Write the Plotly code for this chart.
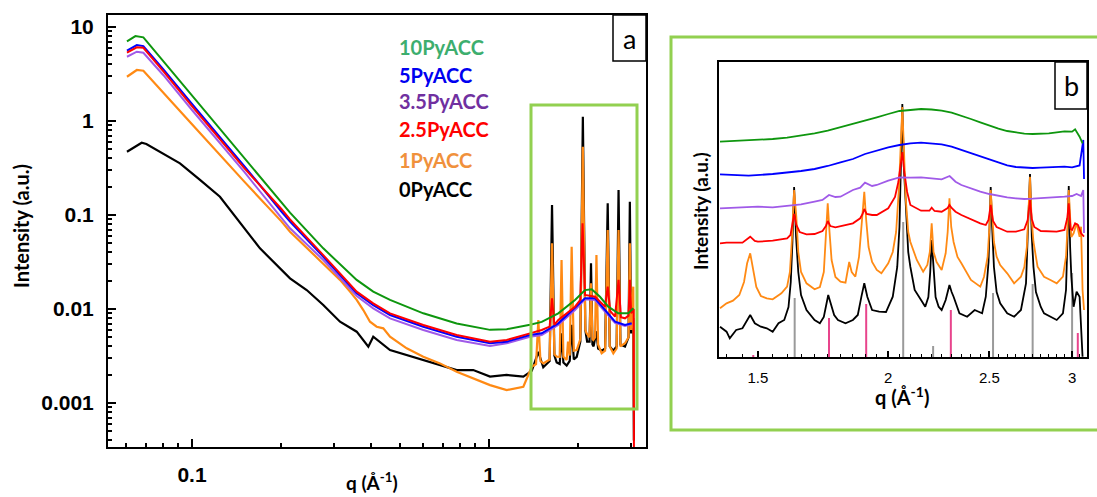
import plotly.graph_objects as go

W, H = 1097, 497
def px(x): return x / W
def py(y): return 1 - y / H

# ---------------- Panel a data (q in 1/A, intensity a.u.) ----------------
qa_10 = [0.0604, 0.0645, 0.0686, 0.08, 0.1, 0.15, 0.2, 0.2138, 0.2767, 0.3585, 0.4076, 0.4642, 0.6009, 0.7783,
         1.008, 1.147, 1.374, 1.505, 1.711, 1.948, 2.105, 2.217, 2.364, 2.521, 2.725, 2.944, 3.061]
ia_10 = [7.05, 8.02, 7.77, 4.34, 1.87, 0.404, 0.137, 0.106, 0.0442, 0.0204, 0.0153, 0.0125, 0.0090, 0.0070,
         0.0060, 0.0061, 0.0068, 0.0073, 0.0090, 0.0125, 0.0159, 0.0162, 0.0135, 0.0106, 0.0090, 0.0090, 0.0102]

qa_5 = [0.0604, 0.0652, 0.0686, 0.08, 0.1, 0.15, 0.2, 0.2138, 0.2767, 0.3585, 0.4076, 0.4642, 0.6009, 0.7783,
        1.008, 1.147, 1.374, 1.505, 1.711, 1.948, 2.105, 2.275, 2.459, 2.657, 2.870, 3.023]
ia_5 = [5.60, 6.43, 6.27, 3.57, 1.52, 0.332, 0.109, 0.0849, 0.0360, 0.0147, 0.0110, 0.00863, 0.00648, 0.00507,
        0.00432, 0.00449, 0.00529, 0.00551, 0.00704, 0.0102, 0.0130, 0.0130, 0.00975, 0.00732, 0.00676, 0.00704]

qa_35 = [0.0604, 0.0652, 0.0686, 0.08, 0.1, 0.15, 0.2, 0.2138, 0.2767, 0.3585, 0.4076, 0.4642, 0.6009, 0.7783,
         1.008, 1.147, 1.374, 1.505, 1.711, 1.948, 2.105, 2.275, 2.459, 2.657, 2.870, 3.023]
ia_35 = [4.83, 5.46, 5.33, 3.09, 1.31, 0.287, 0.093, 0.0722, 0.0332, 0.01375, 0.01017, 0.00796, 0.00598, 0.00468,
         0.00404, 0.00432, 0.00507, 0.00529, 0.00676, 0.00975, 0.01268, 0.01247, 0.00936, 0.00714, 0.00659, 0.00692]

qa_25 = [0.0604, 0.0652, 0.0686, 0.08, 0.1, 0.15, 0.2, 0.2138, 0.2767, 0.3585, 0.4076, 0.4642, 0.6009, 0.7783,
         1.008, 1.147, 1.374, 1.505, 1.60, 1.63, 1.66, 1.711, 1.948, 2.03, 2.065, 2.105, 2.275, 2.459, 2.51, 2.56,
         2.657, 2.73, 2.78, 2.870, 2.95, 2.98, 3.01, 3.04, 3.07, 3.078]
ia_25 = [5.33, 6.08, 6.02, 3.40, 1.44, 0.316, 0.116, 0.0900, 0.0375, 0.0153, 0.0115, 0.0090, 0.00676, 0.00529,
         0.00449, 0.00468, 0.00551, 0.00598, 0.0065, 0.0130, 0.0068, 0.00764, 0.01058, 0.0125, 0.0816, 0.0141,
         0.0135, 0.01058, 0.0173, 0.0095, 0.00828, 0.0204, 0.0082, 0.00796, 0.0085, 0.0204, 0.0090, 0.0095,
         0.0100, 0.0001]

qa_1 = [0.0604, 0.0652, 0.0686, 0.08, 0.1, 0.15, 0.2, 0.2138, 0.2767, 0.315, 0.3404, 0.3585, 0.3774, 0.3975,
        0.4186, 0.4406, 0.4642, 0.5284, 0.6009, 0.684, 0.7783, 0.885, 1.008, 1.147, 1.305, 1.393, 1.44, 1.466,
        1.49, 1.523, 1.60, 1.63, 1.66, 1.69, 1.73, 1.755, 1.78, 1.826, 1.845, 1.87, 1.898, 1.93, 1.974, 2.03,
        2.07, 2.11, 2.133, 2.18, 2.205, 2.23, 2.245, 2.275, 2.30, 2.33, 2.395, 2.46, 2.51, 2.55, 2.622, 2.69,
        2.73, 2.77, 2.87, 2.95, 2.98, 3.01, 3.04, 3.06, 3.075]
ia_1 = [2.96, 3.49, 3.43, 2.00, 0.925, 0.2266, 0.0856, 0.0664, 0.0306, 0.0204, 0.0153, 0.0125, 0.00975, 0.00732,
        0.00648, 0.00623, 0.00507, 0.00382, 0.00311, 0.00264, 0.00215, 0.00183, 0.00155, 0.00137, 0.00149,
        0.00243, 0.0026, 0.00764, 0.0028, 0.00264, 0.0029, 0.0500, 0.0033, 0.00311, 0.0031, 0.0332, 0.0031,
        0.00287, 0.0045, 0.0032, 0.0460, 0.0036, 0.00366, 0.0048, 0.533, 0.0060, 0.00551, 0.0050, 0.01876,
        0.0048, 0.00468, 0.0050, 0.0375, 0.0042, 0.00338, 0.0036, 0.0692, 0.0040, 0.00338, 0.0038, 0.0692,
        0.0040, 0.00432, 0.0050, 0.0500, 0.0060, 0.0100, 0.0173, 0.000914]

qa_0 = [0.0604, 0.0677, 0.0702, 0.0911, 0.1064, 0.1242, 0.1694, 0.2138, 0.2433, 0.2767, 0.315, 0.3585, 0.3924,
        0.4076, 0.4642, 0.5284, 0.6009, 0.684, 0.7783, 0.885, 1.008, 1.147, 1.305, 1.393, 1.466, 1.523, 1.60,
        1.63, 1.66, 1.69, 1.73, 1.755, 1.78, 1.826, 1.87, 1.898, 1.93, 1.974, 2.03, 2.07, 2.11, 2.14, 2.18,
        2.205, 2.23, 2.25, 2.30, 2.33, 2.40, 2.46, 2.51, 2.55, 2.62, 2.69, 2.73, 2.77, 2.87, 2.95, 2.98, 3.01,
        3.04, 3.06, 3.075]
ia_0 = [0.471, 0.588, 0.569, 0.355, 0.236, 0.1566, 0.0442, 0.0212, 0.01592, 0.01104, 0.00732, 0.00574, 0.00397,
        0.00507, 0.00366, 0.00324, 0.00287, 0.00254, 0.00224, 0.00224, 0.00191, 0.00199, 0.00191, 0.0022,
        0.0035, 0.0024, 0.0028, 0.128, 0.0032, 0.0027, 0.0026, 0.0055, 0.0027, 0.0025, 0.0028, 0.0068, 0.0029,
        0.0031, 0.0045, 1.11, 0.0060, 0.0045, 0.0045, 0.0306, 0.0042, 0.0040, 0.0058, 0.0038, 0.0036, 0.0038,
        0.133, 0.0040, 0.0036, 0.0040, 0.1845, 0.0042, 0.0040, 0.0050, 0.138, 0.0055, 0.0070, 0.0080, 0.0004]

# ---------------- Panel b data (offset curves, a.u.) ----------------
qb_10 = [1.38, 1.45, 1.50, 1.55, 1.60, 1.65, 1.70, 1.75, 1.80, 1.85, 1.90, 1.95, 2.00, 2.05, 2.10, 2.15, 2.20,
         2.25, 2.30, 2.35, 2.40, 2.45, 2.50, 2.55, 2.60, 2.65, 2.70, 2.75, 2.80, 2.85, 2.90, 2.95, 3.00, 3.02,
         3.05, 3.07]
ib_10 = [215.3, 216.3, 217, 218, 219.3, 221.3, 223.7, 226.3, 229.7, 232.7, 236, 239.7, 243, 246, 247, 248, 247.5,
         246.3, 244.3, 241.3, 238, 234.7, 231.3, 228.3, 226, 224.3, 223.3, 223, 223.3, 223.7, 224.7, 225.7, 225.3,
         227.7, 220.3, 213.7]

qb_5 = [1.38, 1.47, 1.55, 1.60, 1.65, 1.70, 1.75, 1.80, 1.85, 1.90, 1.95, 2.00, 2.05, 2.10, 2.15, 2.20, 2.25,
        2.30, 2.35, 2.40, 2.45, 2.50, 2.55, 2.60, 2.65, 2.70, 2.75, 2.80, 2.90, 2.95, 3.00, 3.03, 3.05, 3.075,
        3.08]
ib_5 = [182.7, 181.3, 183, 184.3, 186, 188, 191, 194.7, 198, 203, 206.3, 209.7, 212, 213.7, 214.3, 213.7, 212.7,
        210.3, 207, 203.7, 200.3, 197, 194.3, 191.7, 190, 189.3, 189, 189.3, 189.7, 190.3, 189.7, 191, 191.5,
        217, 178]

qb_35 = [1.38, 1.45, 1.50, 1.55, 1.60, 1.65, 1.70, 1.73, 1.755, 1.78, 1.80, 1.85, 1.88, 1.90, 1.93, 1.95, 2.00,
         2.05, 2.10, 2.15, 2.20, 2.25, 2.29, 2.32, 2.35, 2.40, 2.45, 2.50, 2.55, 2.60, 2.65, 2.70, 2.75, 2.80,
         2.85, 2.90, 2.95, 3.00, 3.03, 3.06, 3.075, 3.08]
ib_35 = [148.7, 149.7, 150.3, 149.7, 151, 152.7, 155.3, 157, 162, 160, 160.3, 167, 169.3, 174.3, 171, 172, 176.3,
         179.7, 179.3, 179.7, 178.7, 177.7, 181, 175.3, 172, 168.7, 165.3, 163, 161, 159.7, 158.7, 158, 158.3,
         158.7, 159, 159.3, 160.3, 161, 163, 161, 167, 124]

qb_25 = [1.38, 1.40, 1.45, 1.465, 1.475, 1.49, 1.50, 1.55, 1.60, 1.612, 1.619, 1.625, 1.633, 1.645, 1.67, 1.70,
         1.73, 1.743, 1.750, 1.76, 1.78, 1.80, 1.85, 1.88, 1.89, 1.897, 1.907, 1.93, 1.95, 2.00, 2.03, 2.045,
         2.056, 2.063, 2.072, 2.085, 2.10, 2.15, 2.19, 2.201, 2.215, 2.25, 2.28, 2.289, 2.30, 2.32, 2.35, 2.40,
         2.45, 2.48, 2.495, 2.507, 2.52, 2.54, 2.60, 2.65, 2.70, 2.72, 2.734, 2.745, 2.76, 2.80, 2.85, 2.90,
         2.95, 2.968, 2.978, 2.99, 3.00, 3.02, 3.04, 3.06, 3.08]
ib_25 = [113.7, 114.3, 114.3, 118, 120.3, 116, 115.3, 116.3, 118.7, 122, 133.7, 143, 132, 125, 122.7, 123,
         126, 131, 136, 131, 129.7, 131, 133.7, 138.7, 143, 148, 143, 142, 142, 148.7, 160, 175,
         195, 205, 185, 165, 152, 146.3, 146.3, 149.3, 146, 145.3, 149, 152, 149, 145.3, 142, 137.7,
         133.7, 132, 137, 152, 136, 130, 125.3, 125.3, 127.7, 137, 157, 138, 130, 126, 125.3, 125.3,
         127, 138.7, 153.7, 128, 127, 133.7, 132, 123.7, 120.3]

qb_1 = [1.38, 1.40, 1.42, 1.44, 1.455, 1.465, 1.475, 1.485, 1.495, 1.51, 1.53, 1.55, 1.58, 1.60, 1.61, 1.617,
        1.625, 1.633, 1.64, 1.65, 1.67, 1.70, 1.72, 1.735, 1.743, 1.750, 1.757, 1.765, 1.78, 1.80, 1.82, 1.835,
        1.845, 1.86, 1.875, 1.887, 1.897, 1.905, 1.915, 1.93, 1.95, 1.97, 2.00, 2.02, 2.035, 2.048, 2.056, 2.063,
        2.07, 2.078, 2.09, 2.10, 2.13, 2.16, 2.18, 2.192, 2.201, 2.21, 2.225, 2.25, 2.27, 2.28, 2.289, 2.298,
        2.31, 2.33, 2.35, 2.40, 2.45, 2.47, 2.49, 2.50, 2.507, 2.515, 2.525, 2.54, 2.56, 2.60, 2.64, 2.68, 2.70,
        2.715, 2.725, 2.734, 2.743, 2.755, 2.78, 2.82, 2.86, 2.90, 2.94, 2.96, 2.97, 2.978, 2.987, 2.995, 3.01,
        3.03, 3.05, 3.06, 3.07, 3.08]
ib_1 = [48.7, 53.7, 56.3, 62, 75, 93.7, 103.7, 87, 70, 61, 58.7, 57.7, 63.7, 70.3, 85, 117,
        167, 140, 105, 85, 73.7, 67.7, 70, 85, 120, 153.7, 125, 97, 80, 75.3, 74.3, 95,
        85, 80.3, 100, 140, 165.3, 137, 110, 95, 87, 83.7, 93.7, 105, 125, 170, 215, 250,
        210, 160, 125, 115, 97, 85.3, 92, 105, 133.7, 105, 95, 87, 103.7, 125, 158.7, 130,
        115, 100, 93.7, 77, 70.3, 80, 100, 130, 167, 140, 115, 100.3, 92, 83.7, 73.7, 80.3, 90,
        110, 145, 180.3, 140, 115, 90.3, 80.3, 77, 73.7, 80.3, 100.3, 130, 167, 140, 120, 123.7,
        133.7, 120.3, 130.3, 67, 47]

qb_0 = [1.38, 1.40, 1.41, 1.43, 1.45, 1.465, 1.475, 1.49, 1.51, 1.53, 1.55, 1.57, 1.59, 1.605, 1.613, 1.619,
        1.625, 1.632, 1.64, 1.65, 1.67, 1.70, 1.72, 1.735, 1.745, 1.752, 1.76, 1.775, 1.79, 1.82, 1.85, 1.87,
        1.885, 1.897, 1.91, 1.93, 1.96, 1.99, 2.02, 2.04, 2.05, 2.056, 2.063, 2.07, 2.08, 2.09, 2.10, 2.12, 2.15,
        2.17, 2.185, 2.194, 2.201, 2.21, 2.22, 2.235, 2.25, 2.27, 2.289, 2.30, 2.31, 2.34, 2.38, 2.42, 2.46,
        2.48, 2.495, 2.50, 2.507, 2.515, 2.525, 2.54, 2.56, 2.60, 2.64, 2.68, 2.71, 2.72, 2.734, 2.745, 2.755,
        2.77, 2.80, 2.82, 2.86, 2.90, 2.94, 2.96, 2.97, 2.978, 2.987, 2.995, 3.01, 3.03, 3.05, 3.06, 3.07]
ib_0 = [30.3, 25.3, 18.7, 27, 28.7, 37, 42, 33.7, 30.3, 28.7, 25.3, 33.7, 37, 50, 75, 115,
        170, 120, 85, 62, 47, 37, 33.7, 40, 55, 62, 55, 42, 37, 33.7, 37, 42,
        60.3, 73.7, 60, 47, 45.3, 45, 60.3, 90, 130, 180, 253, 190, 140, 105, 90, 67, 57,
        50.3, 60, 85, 117, 85, 60, 50.3, 47, 57, 72, 65, 60.3, 43.7, 40.3, 47, 43.7,
        60.3, 95, 125, 170, 130, 90, 65, 53.7, 43.7, 40.3, 47, 73.7, 120, 183, 120, 90,
        65, 50, 43.7, 40.3, 37, 43.7, 67, 120, 171, 110, 80.3, 50.3, 65.3, 60.3, 33.7, 0.3]

# reference reflections (panel b)
q_calcite = [1.627, 2.067, 2.208, 2.52, 2.75, 3.00]
h_calcite = [59, 135, 11, 64, 73, 84]
q_vaterite = [1.485, 1.755, 1.905, 2.296, 3.038]
h_vaterite = [2, 39, 53, 47, 24]

labels = ["10PyACC", "5PyACC", "3.5PyACC", "2.5PyACC", "1PyACC", "0PyACC"]
label_colors = ["#3DAE6E", "#0000F0", "#7030A0", "#FF0000", "#F0913C", "#000000"]

C_GREEN, C_BLUE, C_PURPLE, C_RED, C_ORANGE, C_BLACK = "#0E960E", "#0000FF", "#A05AE8", "#FF0000", "#FF8A14", "#000000"
BOX_GREEN = "#92D050"

fig = go.Figure()

def line(x, y, color, width, xa="x", ya="y"):
    fig.add_trace(go.Scatter(x=x, y=y, mode="lines", line=dict(color=color, width=width),
                             xaxis=xa, yaxis=ya, showlegend=False, hoverinfo="skip"))

# panel a curves
line(qa_0, ia_0, C_BLACK, 2.2)
line(qa_1, ia_1, C_ORANGE, 2.2)
line(qa_35, ia_35, C_PURPLE, 2)
line(qa_5, ia_5, C_BLUE, 2)
line(qa_25, ia_25, C_RED, 2)
line(qa_10, ia_10, C_GREEN, 2)

# panel b reference sticks
def sticks(qs, hs, color):
    xs, ys = [], []
    for q, h in zip(qs, hs):
        xs += [q, q, None]
        ys += [0, h, None]
    line(xs, ys, color, 2, "x2", "y2")

sticks(q_calcite, h_calcite, "#9A9A9A")
sticks(q_vaterite, h_vaterite, "#E8448C")

# panel b curves
line(qb_0, ib_0, C_BLACK, 1.8, "x2", "y2")
line(qb_1, ib_1, C_ORANGE, 1.8, "x2", "y2")
line(qb_25, ib_25, C_RED, 1.8, "x2", "y2")
line(qb_35, ib_35, C_PURPLE, 1.8, "x2", "y2")
line(qb_5, ib_5, C_BLUE, 1.8, "x2", "y2")
line(qb_10, ib_10, C_GREEN, 1.8, "x2", "y2")

# ticks
xa_minor = [k * 0.01 for k in range(6, 10)] + [k * 0.1 for k in range(2, 10)] + [2, 3]
ya_minor = [k * 10.0 ** d for d in range(-4, 2) for k in range(2, 10)]
xb_minor = [round(1.40 + 0.05 * i, 2) for i in range(0, 34)]
xb_minor = [v for v in xb_minor if v not in (1.5, 2.0, 2.5, 3.0)]

bold_tick = dict(family="Liberation Sans", size=21, color="black", weight="bold")

fig.update_layout(
    width=W, height=H, margin=dict(l=0, r=0, t=0, b=0),
    paper_bgcolor="white", plot_bgcolor="white", showlegend=False,
    xaxis=dict(type="log", domain=[px(108), px(646)], range=[-1.2828, 0.5286], anchor="y",
               showline=True, linecolor="black", linewidth=2, mirror=True, showgrid=False, zeroline=False,
               ticks="inside", ticklen=8, tickwidth=2, tickcolor="black",
               tickmode="array", tickvals=[0.1, 1], ticktext=["0.1", "1"], tickfont=bold_tick,
               ticklabelstandoff=8,
               minor=dict(tickmode="array", tickvals=xa_minor, ticks="inside", ticklen=4, tickwidth=1.5,
                          tickcolor="black", showgrid=False)),
    yaxis=dict(type="log", domain=[py(447), py(15)], range=[-3.468, 1.128], anchor="x",
               showline=True, linecolor="black", linewidth=2, mirror=True, showgrid=False, zeroline=False,
               ticks="inside", ticklen=8, tickwidth=2, tickcolor="black",
               tickmode="array", tickvals=[0.001, 0.01, 0.1, 1, 10],
               ticktext=["0.001", "0.01", "0.1", "1", "10"], tickfont=bold_tick, ticklabelstandoff=8,
               minor=dict(tickmode="array", tickvals=ya_minor, ticks="inside", ticklen=4, tickwidth=1.5,
                          tickcolor="black", showgrid=False)),
    xaxis2=dict(type="log", domain=[px(719), px(1087)], range=[0.1389, 0.4914], anchor="y2",
                showline=True, linecolor="black", linewidth=1.5, mirror=True, showgrid=False, zeroline=False,
                ticks="inside", ticklen=6, tickwidth=1.5, tickcolor="black",
                tickmode="array", tickvals=[1.5, 2, 2.5, 3], ticktext=["1.5", "2", "2.5", "3"],
                tickfont=dict(family="Liberation Sans", size=15, color="black"), ticklabelstandoff=6,
                minor=dict(tickmode="array", tickvals=xb_minor, ticks="inside", ticklen=3, tickwidth=1,
                           tickcolor="black", showgrid=False)),
    yaxis2=dict(domain=[py(357), py(62)], range=[0, 295], anchor="x2",
                showline=True, linecolor="black", linewidth=1.5, mirror=True, showgrid=False, zeroline=False,
                ticks="", showticklabels=False),
)

shapes = [
    dict(type="rect", xref="paper", yref="paper", x0=px(531), x1=px(637), y0=py(409), y1=py(105),
         line=dict(color=BOX_GREEN, width=3)),
    dict(type="rect", xref="paper", yref="paper", x0=px(671), x1=px(1110), y0=py(430), y1=py(37),
         line=dict(color=BOX_GREEN, width=3)),
    dict(type="rect", xref="paper", yref="paper", x0=px(613), x1=px(646), y0=py(61), y1=py(15),
         line=dict(color="black", width=1.5), fillcolor="white"),
    dict(type="rect", xref="paper", yref="paper", x0=px(1055), x1=px(1087), y0=py(109), y1=py(62),
         line=dict(color="black", width=1.5), fillcolor="white"),
]
fig.update_layout(shapes=shapes)

ann = []
leg_y = [47, 74.5, 101, 129, 160.5, 188.5]
for t, c, yy in zip(labels, label_colors, leg_y):
    ann.append(dict(text="<b>" + t + "</b>", x=px(397), y=py(yy), xref="paper", yref="paper",
                    xanchor="left", yanchor="middle", showarrow=False,
                    font=dict(family="Lato", size=20, color=c)))
ann.append(dict(text="a", x=px(629.5), y=py(38), xref="paper", yref="paper", showarrow=False,
                xanchor="center", yanchor="middle", font=dict(family="Lato", size=27, color="black")))
ann.append(dict(text="b", x=px(1071), y=py(85), xref="paper", yref="paper", showarrow=False,
                xanchor="center", yanchor="middle", font=dict(family="Lato", size=27, color="black")))
ann.append(dict(text="<b>Intensity (a.u.)</b>", x=px(21), y=py(226), xref="paper", yref="paper",
                showarrow=False, textangle=-90, xanchor="center", yanchor="middle",
                font=dict(family="Lato", size=20, color="black")))
ann.append(dict(text="<b>q (Å<sup>-1</sup>)</b>", x=px(372), y=py(481), xref="paper", yref="paper",
                showarrow=False, xanchor="center", yanchor="middle",
                font=dict(family="Lato", size=19, color="black")))
ann.append(dict(text="<b>Intensity (a.u.)</b>", x=px(700), y=py(211), xref="paper", yref="paper",
                showarrow=False, textangle=-90, xanchor="center", yanchor="middle",
                font=dict(family="Lato", size=19, color="black")))
ann.append(dict(text="<b>q (Å<sup>-1</sup>)</b>", x=px(902), y=py(396), xref="paper", yref="paper",
                showarrow=False, xanchor="center", yanchor="middle",
                font=dict(family="Lato", size=20, color="black")))
fig.update_layout(annotations=ann)

fig.write_html("out.html", config={"displayModeBar": False},
               post_script="document.body.style.margin='0px';document.body.style.padding='0px';")
